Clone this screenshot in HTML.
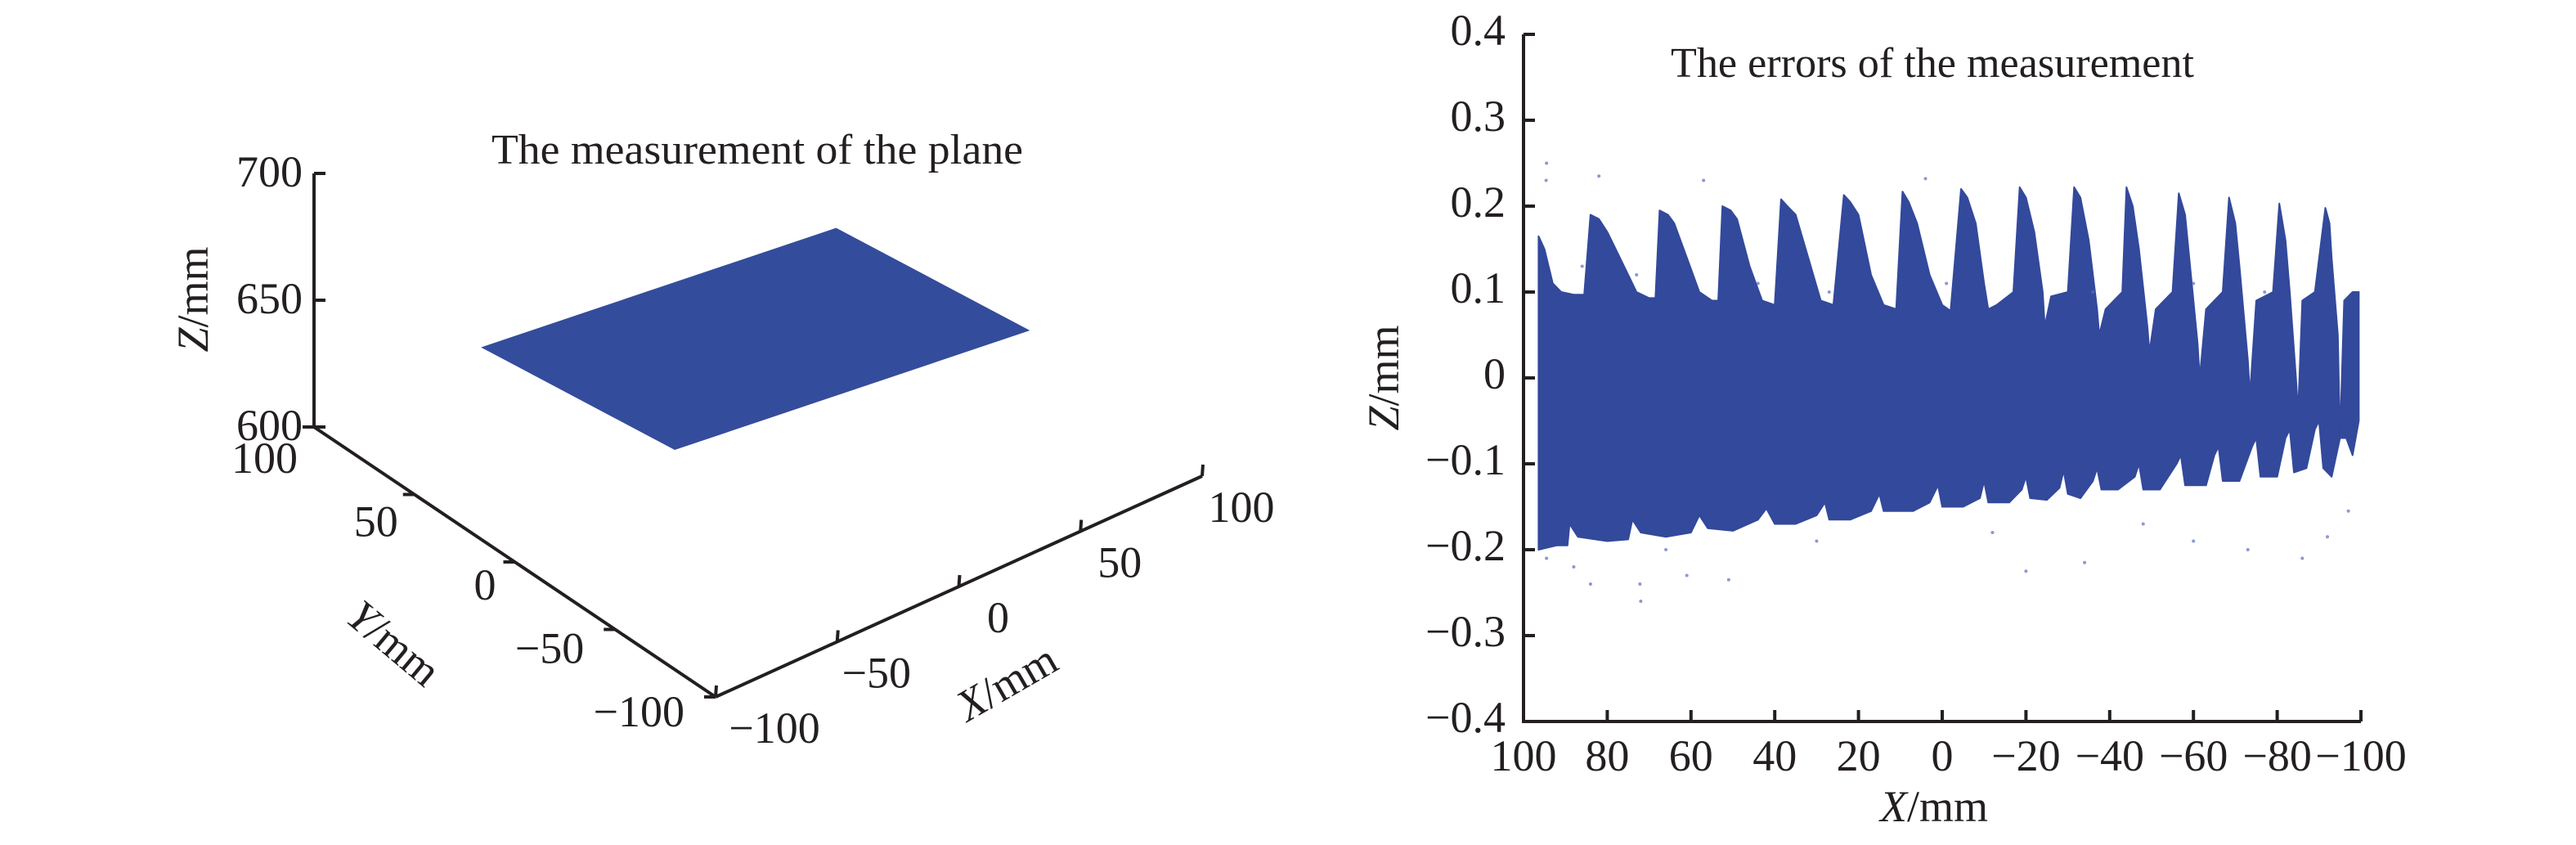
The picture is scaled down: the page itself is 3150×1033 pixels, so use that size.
<!DOCTYPE html>
<html><head><meta charset="utf-8">
<style>
html,body{margin:0;padding:0;background:#fff;}
svg{display:block;font-family:"Liberation Serif",serif;}
</style></head>
<body>
<svg id="fig" width="3150" height="1033" viewBox="0 0 3150 1033">
<g id="left"></g>
<g id="right"></g>
</svg>
<script>
// ---------- LEFT CHART DATA ----------
const zTicks = [600, 650, 700];
const yTicks3d = [100, 50, 0, -50, -100];
const xTicks3d = [-100, -50, 0, 50, 100];
const planeXRange = [-78, 68];
const planeYRange = [-53, 43.5];
const planeZ = 670.6;

// ---------- RIGHT CHART DATA ----------
const errXTicks = [100, 80, 60, 40, 20, 0, -20, -40, -60, -80, -100];
const errXTickLabels = ["100","80","60","40","20","0","\u221220","\u221240","\u221260","\u221280","\u2212100"];
const errZTicks = [0.4, 0.3, 0.2, 0.1, 0, -0.1, -0.2, -0.3, -0.4];
const errZTickLabels = ["0.4","0.3","0.2","0.1","0","\u22120.1","\u22120.2","\u22120.3","\u22120.4"];
const upperX = [96.4,95,93,91,88,85.5,84,82,80,77,73,70,68.5,67.5,65.5,64,61,58,55,53.5,52.5,50.5,49,46,43,40,38.5,37,35,32,29,26,23.5,22,20,17,14,11,9.5,8,6,3,0,-2,-4.5,-6,-8,-10,-11,-13,-17,-18.5,-20,-22,-24,-24.5,-26,-30,-31.5,-33,-35,-37,-37.5,-39,-43,-44,-45.5,-47,-49,-49.5,-51,-55,-56.5,-58,-59,-61,-61.5,-63,-67,-68.5,-70,-71,-73,-73.5,-75,-79,-80.5,-82,-83,-84.5,-85,-86,-89,-91.5,-92.5,-93,-94.5,-95,-96,-98,-99.5];
const upperZ = [0.165,0.15,0.11,0.1,0.097,0.097,0.19,0.185,0.17,0.14,0.1,0.093,0.093,0.195,0.19,0.18,0.14,0.1,0.09,0.09,0.2,0.195,0.185,0.13,0.09,0.085,0.208,0.2,0.19,0.14,0.09,0.085,0.213,0.205,0.19,0.12,0.085,0.08,0.217,0.205,0.18,0.12,0.085,0.078,0.22,0.21,0.18,0.11,0.08,0.085,0.1,0.222,0.21,0.17,0.1,0.06,0.095,0.1,0.222,0.21,0.16,0.08,0.05,0.08,0.1,0.222,0.2,0.15,0.06,0.03,0.08,0.1,0.215,0.19,0.14,0.04,0.0,0.08,0.1,0.21,0.18,0.13,0.02,-0.02,0.09,0.1,0.203,0.16,0.1,0.0,-0.04,0.09,0.1,0.198,0.18,0.14,0.05,-0.07,0.09,0.1,0.1];
const lowerX = [96.4,92,89.5,89,87,80,75,74,72,66,60,58,56,50,44,42,40,35,30,28,27,22,17,15,14,7,3,1,0,-5,-9,-10,-11,-16,-19,-20,-21,-25,-28,-29,-30,-33,-36,-37,-38,-42,-46,-47,-48,-52,-56,-57,-58,-63,-65,-66,-67,-71,-74,-75,-76,-80,-82,-83,-84,-87,-89,-90,-91,-93,-95,-96.5,-98,-99.5];
const lowerZ = [-0.2,-0.195,-0.195,-0.17,-0.185,-0.19,-0.188,-0.165,-0.18,-0.185,-0.18,-0.16,-0.175,-0.178,-0.165,-0.152,-0.17,-0.17,-0.16,-0.145,-0.165,-0.165,-0.155,-0.135,-0.155,-0.155,-0.145,-0.125,-0.15,-0.15,-0.14,-0.12,-0.145,-0.145,-0.13,-0.115,-0.14,-0.142,-0.128,-0.108,-0.135,-0.14,-0.12,-0.105,-0.13,-0.13,-0.115,-0.1,-0.13,-0.13,-0.1,-0.09,-0.125,-0.125,-0.09,-0.08,-0.12,-0.12,-0.08,-0.07,-0.115,-0.115,-0.07,-0.06,-0.11,-0.105,-0.06,-0.05,-0.105,-0.115,-0.07,-0.07,-0.09,-0.05];
const outlierX = [94.5,94.6,82,57,4,72,72.2,94.5,84,61,51,-20,-34,-60,-73,-86,-92,-97,86,73,44,27,-1,-36,-60,-77,88,66,30,-12,-48];
const outlierZ = [0.25,0.23,0.235,0.23,0.232,-0.26,-0.24,-0.21,-0.24,-0.23,-0.235,-0.225,-0.215,-0.19,-0.2,-0.21,-0.185,-0.155,0.13,0.12,0.11,0.1,0.11,0.1,0.11,0.1,-0.22,-0.2,-0.19,-0.18,-0.17];

const NS = "http://www.w3.org/2000/svg";
function mk(parent, tag, attrs, text){
  const e = document.createElementNS(NS, tag);
  for (const k in attrs) e.setAttribute(k, attrs[k]);
  if (text !== undefined) e.textContent = text;
  parent.appendChild(e);
  return e;
}
const INK = "#231f20", BLUE = "#344c9c";
const FS = 54;

// ===== LEFT: 3D projection =====
const O3 = [875, 852];
const VX = [2.975, -1.35], VY = [-2.455, -1.65], VZ = [0, -3.1];
function proj(x, y, z){
  const u = x + 100, v = y + 100, w = z - 600;
  return [O3[0] + u*VX[0] + v*VY[0] + w*VZ[0], O3[1] + u*VX[1] + v*VY[1] + w*VZ[1]];
}
const PX = [2.975, -1.0], PY = [-2.455, -1.3];
function projPlane(x, y, z){
  const u = x + 100, v = y + 100, w = z - 600;
  return [O3[0] + u*PX[0] + v*PY[0] + w*VZ[0], O3[1] + u*PX[1] + v*PY[1] + w*VZ[1]];
}
const L = document.getElementById('left');
{
  const c = [
    projPlane(planeXRange[0], planeYRange[0], planeZ),
    projPlane(planeXRange[1], planeYRange[0], planeZ),
    projPlane(planeXRange[1], planeYRange[1], planeZ),
    projPlane(planeXRange[0], planeYRange[1], planeZ)];
  const p = mk(L, 'polygon', {points: c.map(q=>q.join(',')).join(' '), fill: BLUE});
  
  
}
{
  const a = proj(-100, 100, zTicks[0]), b = proj(-100, 100, zTicks[zTicks.length-1]);
  const ln = mk(L, 'line', {x1:a[0], y1:a[1], x2:b[0], y2:b[1], stroke:INK, 'stroke-width':4});
  
  
  zTicks.forEach(t => {
    const q = proj(-100, 100, t);
    const tk = mk(L, 'line', {x1:q[0], y1:q[1], x2:q[0]+14, y2:q[1], stroke:INK, 'stroke-width':4});
    
    
    const tx = mk(L, 'text', {x:q[0]-14, y:q[1]+16, 'font-size':FS, 'text-anchor':'end', fill:INK}, String(t));
    
    
  });
}
{
  const a = proj(-100, 100, 600), b = proj(-100, -100, 600);
  const ln = mk(L, 'line', {x1:a[0], y1:a[1], x2:b[0], y2:b[1], stroke:INK, 'stroke-width':4});
  
  
  yTicks3d.forEach(t => {
    const q = proj(-100, t, 600);
    const tk = mk(L, 'line', {x1:q[0], y1:q[1], x2:q[0]-14, y2:q[1], stroke:INK, 'stroke-width':4});
    
    
    const lab = t < 0 ? '\u2212' + Math.abs(t) : String(t);
    const dy = 18 + 20 * (t + 100) / 200;
    const dx = t >= 50 ? -20 : (t === 0 ? -23 : -38);
    const tx = mk(L, 'text', {x:q[0]+dx, y:q[1]+dy+18, 'font-size':FS, 'text-anchor':'end', fill:INK}, lab);
    
    
  });
}
{
  const a = proj(-100, -100, 600), b = proj(100, -100, 600);
  const ln = mk(L, 'line', {x1:a[0], y1:a[1], x2:b[0], y2:b[1], stroke:INK, 'stroke-width':4});
  
  
  xTicks3d.forEach(t => {
    const q = proj(t, -100, 600);
    const tk = mk(L, 'line', {x1:q[0], y1:q[1], x2:q[0]+1, y2:q[1]-14, stroke:INK, 'stroke-width':4});
    
    
    const lab = t < 0 ? '\u2212' + Math.abs(t) : String(t);
    const dx = t === -100 ? 72 : 48;
    const tx = mk(L, 'text', {x:q[0]+dx, y:q[1]+56, 'font-size':FS, 'text-anchor':'middle', fill:INK}, lab);
    
    
  });
}
{
  const t1 = mk(L, 'text', {x:926, y:200, 'font-size':52, 'text-anchor':'middle', fill:INK, textLength:650, lengthAdjust:'spacingAndGlyphs'}, 'The measurement of the plane');
  
  
  const zt = mk(L, 'text', {x:0, y:0, 'font-size':54, 'text-anchor':'middle', fill:INK, transform:'translate(254,366) rotate(-90)'});
  
  
  mk(zt, 'tspan', {'font-style':'italic'}, 'Z');
  mk(zt, 'tspan', {}, '/mm');
  const yt = mk(L, 'text', {x:0, y:0, 'font-size':54, 'text-anchor':'middle', fill:INK, transform:'translate(470,800) rotate(40)'});
  
  
  mk(yt, 'tspan', {'font-style':'italic'}, 'Y');
  mk(yt, 'tspan', {}, '/mm');
  const xt = mk(L, 'text', {x:0, y:0, 'font-size':54, 'text-anchor':'middle', fill:INK, transform:'translate(1240,850) rotate(-30)'});
  
  
  mk(xt, 'tspan', {'font-style':'italic'}, 'X');
  mk(xt, 'tspan', {}, '/mm');
}

// ===== RIGHT: error scatter =====
const R = document.getElementById('right');
const AX = {x0:1863, x1:2887, y0:42, y1:882};
function sx(v){ return AX.x0 + (100 - v) / 200 * (AX.x1 - AX.x0); }
function sy(v){ return AX.y0 + (0.4 - v) / 0.8 * (AX.y1 - AX.y0); }
{
  const pts = [];
  for (let i = 0; i < upperX.length; i++) pts.push([sx(upperX[i]), sy(upperZ[i])]);
  for (let i = lowerX.length - 1; i >= 0; i--) pts.push([sx(lowerX[i]), sy(lowerZ[i])]);
  const band = mk(R, 'polygon', {points: pts.map(p=>p[0].toFixed(1)+','+p[1].toFixed(1)).join(' '), fill:'#33499b', stroke:'#33499b', 'stroke-width':2, 'stroke-linejoin':'round'});
  
  
  for (let i = 0; i < outlierX.length; i++) {
    const d = mk(R, 'circle', {cx:sx(outlierX[i]), cy:sy(outlierZ[i]), r:2, fill:'#5a6cc0', opacity:0.7});
    
    
  }
}
{
  const ax = mk(R, 'path', {d:`M${AX.x0},${AX.y0} L${AX.x0},${AX.y1} L${AX.x1},${AX.y1}`, fill:'none', stroke:INK, 'stroke-width':4});
  
  
  errZTicks.forEach((t, i) => {
    const y = sy(t);
    const tk = mk(R, 'line', {x1:AX.x0, y1:y, x2:AX.x0+14, y2:y, stroke:INK, 'stroke-width':4});
    
    
    const tx = mk(R, 'text', {x:AX.x0-22, y:y+13, 'font-size':FS, 'text-anchor':'end', fill:INK}, errZTickLabels[i]);
    
    
  });
  errXTicks.forEach((t, i) => {
    const x = sx(t);
    const tk = mk(R, 'line', {x1:x, y1:AX.y1, x2:x, y2:AX.y1-14, stroke:INK, 'stroke-width':4});
    
    
    const tx = mk(R, 'text', {x:x, y:AX.y1+60, 'font-size':FS, 'text-anchor':'middle', fill:INK}, errXTickLabels[i]);
    
    
  });
  const t2 = mk(R, 'text', {x:2363, y:94, 'font-size':52, 'text-anchor':'middle', fill:INK, textLength:640, lengthAdjust:'spacingAndGlyphs'}, 'The errors of the measurement');
  
  
  const zt = mk(R, 'text', {x:0, y:0, 'font-size':54, 'text-anchor':'middle', fill:INK, transform:'translate(1710,462) rotate(-90)'});
  
  
  mk(zt, 'tspan', {'font-style':'italic'}, 'Z');
  mk(zt, 'tspan', {}, '/mm');
  const xt = mk(R, 'text', {x:2365, y:1004, 'font-size':54, 'text-anchor':'middle', fill:INK});
  
  
  mk(xt, 'tspan', {'font-style':'italic'}, 'X');
  mk(xt, 'tspan', {}, '/mm');
}
</script>
</body></html>
